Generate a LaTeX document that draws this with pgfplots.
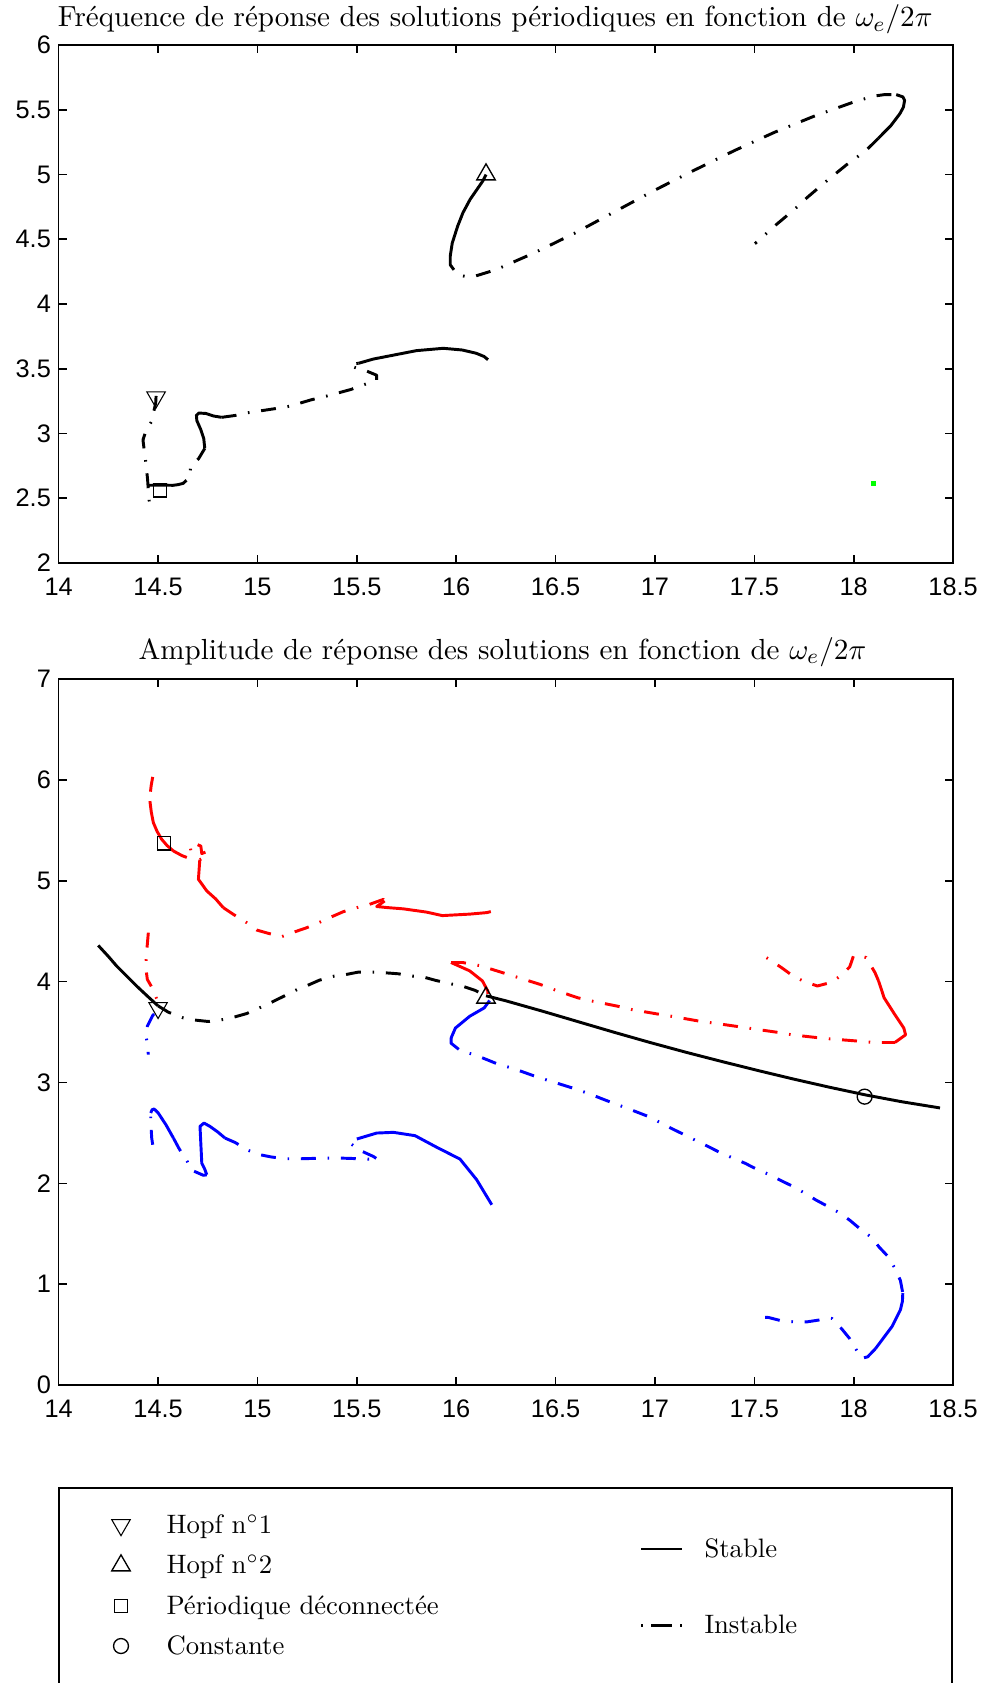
\documentclass[border=0pt]{standalone}
\usepackage{fontspec}
\usepackage{pgfplots}
\pgfplotsset{compat=1.18}
\newfontfamily\arial{Liberation Sans}
\pgfplotsset{
  base/.style={scale only axis, anchor=south west, width=335.4pt,
    xmin=14, xmax=18.5, xtick={14,14.5,15,15.5,16,16.5,17,17.5,18,18.5},
    tick align=inside, major tick length=3pt,
    axis line style={line width=0.6pt},
    every tick/.append style={line width=0.6pt, black},
    tick label style={font=\arial\fontsize{9.5}{10}\selectfont},
    /pgf/number format/assume math mode=true,
    xticklabel style={yshift=-2pt}, yticklabel style={xshift=0.6pt},
    title style={at={(0.5,1)}, anchor=base, font=\fontsize{10.9}{13}\selectfont}},
  stab/.style={line width=1.1pt, solid, line join=round},
  inst/.style={line width=1.1pt, line join=round, dash pattern=on 5.6pt off 4.4pt on 0.6pt off 4.4pt},
  mk/.style={only marks, mark options={solid, line width=0.5pt, draw=black, fill=none}},
}
\begin{document}
\begin{tikzpicture}
\useasboundingbox (0,0) rectangle (369.75pt,-631.125pt);
% ---------------- top plot ----------------
\begin{axis}[base, height=194.25pt, at={(22.01pt,-211.125pt)},
  ymin=2, ymax=6, ytick={2,2.5,3,3.5,4,4.5,5,5.5,6},
  title={Fréquence de réponse des solutions périodiques en fonction de $\omega_e/2\pi$},
  title style={yshift=0.8pt, xshift=-4pt}]
\addplot[inst, black] coordinates {(14.49,3.29)(14.488,3.233)(14.466,3.09)(14.436,3.006)(14.424,2.95)(14.438,2.78)(14.447,2.65)(14.452,2.54)(14.46,2.40)};
\addplot[stab, black] coordinates {(14.45,2.60)(14.51,2.602)(14.575,2.60)};
\addplot[inst, black] coordinates {(14.575,2.60)(14.60,2.605)(14.626,2.615)(14.663,2.667)(14.66,2.70)(14.665,2.745)(14.705,2.808)(14.735,2.885)};
\addplot[stab, black] coordinates {(14.735,2.885)(14.73,2.96)(14.715,3.03)(14.695,3.10)(14.693,3.14)(14.705,3.158)(14.74,3.155)(14.78,3.135)(14.82,3.125)};
\addplot[inst, black] coordinates {(14.82,3.125)(14.89,3.14)(14.95,3.16)(15.08,3.19)(15.16,3.21)(15.27,3.26)(15.35,3.29)(15.47,3.34)(15.55,3.385)(15.60,3.415)(15.60,3.45)(15.55,3.482)(15.50,3.505)(15.465,3.522)(15.48,3.537)(15.508,3.542)};
\addplot[stab, black] coordinates {(15.508,3.542)(15.583,3.575)(15.70,3.61)(15.80,3.64)(15.935,3.658)(16.03,3.645)(16.10,3.62)(16.14,3.595)(16.16,3.57)};
\addplot[stab, black] coordinates {(16.15,5.00)(16.133,4.948)(16.07,4.808)(16.034,4.705)(16.007,4.60)(15.98,4.47)(15.97,4.37)};
\addplot[inst, black] coordinates {(15.97,4.37)(15.97,4.303)(16.007,4.225)(16.05,4.212)(16.088,4.212)(16.2,4.265)(16.4,4.40)(16.6,4.55)(16.8,4.715)(17.0,4.88)(17.2,5.035)(17.4,5.185)(17.6,5.325)(17.8,5.45)(18.0,5.56)(18.1,5.605)(18.155,5.617)(18.214,5.617)};
\addplot[stab, black] coordinates {(18.214,5.617)(18.247,5.60)(18.256,5.573)(18.25,5.52)(18.232,5.469)(18.187,5.378)(18.124,5.28)};
\addplot[inst, black] coordinates {(18.124,5.28)(18.061,5.184)(17.962,5.073)(17.854,4.938)(17.764,4.82)(17.701,4.73)(17.611,4.614)(17.503,4.466)};
\addplot[only marks, mark=square*, mark size=0.6pt, color=green] coordinates {(18.10,2.615)};
\addplot[mk, mark=triangle, mark size=4pt, mark options={rotate=180}] coordinates {(14.49,3.28)};
\addplot[mk, mark=triangle, mark size=4pt] coordinates {(16.15,5.00)};
\addplot[mk, mark=square, mark size=2.5pt] coordinates {(14.51,2.56)};
\end{axis}
% ---------------- bottom plot ----------------
\begin{axis}[base, height=264.75pt, at={(22.01pt,-519.4pt)},
  ymin=0, ymax=7, ytick={0,1,2,3,4,5,6,7},
  title={Amplitude de réponse des solutions en fonction de $\omega_e/2\pi$},
  title style={yshift=1.5pt, xshift=-1.3pt}]
% black
\addplot[stab, black] coordinates {(14.199,4.359)(14.25,4.25)(14.292,4.154)(14.35,4.04)(14.393,3.955)(14.45,3.85)(14.50,3.76)};
\addplot[inst, black] coordinates {(14.50,3.76)(14.552,3.697)(14.627,3.641)(14.691,3.618)(14.753,3.605)(14.828,3.625)(14.887,3.651)(14.946,3.684)(15.022,3.751)(15.072,3.797)(15.127,3.85)(15.201,3.923)(15.251,3.962)(15.312,4.015)(15.386,4.055)(15.446,4.071)(15.508,4.095)(15.583,4.095)(15.642,4.088)(15.709,4.078)(15.782,4.055)(15.833,4.047)(15.896,4.013)(15.969,3.98)(16.029,3.957)(16.096,3.913)(16.15,3.86)};
\addplot[stab, black] coordinates {(16.15,3.86)(16.25,3.81)(16.431,3.709)(16.612,3.604)(16.793,3.499)(16.975,3.397)(17.156,3.300)(17.337,3.208)(17.518,3.119)(17.70,3.033)(17.881,2.952)(18.062,2.876)(18.243,2.809)(18.434,2.748)};
% red
\addplot[inst, red] coordinates {(14.473,6.03)(14.465,5.94)(14.46,5.85)(14.459,5.79)};
\addplot[stab, red] coordinates {(14.459,5.79)(14.466,5.68)(14.476,5.578)(14.495,5.49)(14.518,5.412)(14.545,5.35)(14.577,5.296)};
\addplot[inst, red] coordinates {(14.577,5.296)(14.62,5.25)(14.66,5.22)(14.665,5.30)(14.66,5.355)(14.69,5.365)(14.715,5.345)(14.72,5.27)(14.745,5.29)(14.74,5.24)(14.71,5.21)};
\addplot[stab, red] coordinates {(14.71,5.21)(14.703,5.015)(14.745,4.90)(14.79,4.82)(14.828,4.734)};
\addplot[inst, red] coordinates {(14.828,4.734)(14.879,4.667)(14.946,4.585)(14.996,4.512)(15.055,4.479)(15.122,4.446)(15.189,4.495)(15.248,4.535)(15.315,4.591)(15.374,4.644)(15.432,4.694)(15.50,4.734)(15.563,4.766)(15.634,4.816)(15.64,4.80)};
\addplot[stab, red] coordinates {(15.64,4.80)(15.60,4.745)(15.65,4.735)(15.734,4.722)(15.85,4.69)(15.93,4.655)(16.07,4.67)(16.155,4.685)(16.174,4.695)};
\addplot[inst, red] coordinates {(14.451,4.486)(14.445,4.35)(14.439,4.188)(14.439,4.128)(14.446,4.022)(14.47,3.94)(14.493,3.83)};
\addplot[stab, red] coordinates {(16.159,3.88)(16.159,3.907)(16.132,4.007)(16.068,4.107)(15.974,4.19)};
\addplot[inst, red] coordinates {(15.974,4.19)(16.032,4.19)(16.123,4.157)(16.232,4.09)(16.313,4.04)(16.422,3.973)(16.503,3.913)(16.612,3.84)(16.685,3.807)(16.811,3.757)(16.884,3.723)(17.011,3.68)(17.083,3.657)(17.21,3.613)(17.292,3.59)(17.41,3.557)(17.491,3.533)(17.609,3.50)(17.69,3.473)(17.808,3.447)(17.881,3.433)(18.007,3.413)(18.08,3.40)(18.143,3.397)(18.207,3.397)};
\addplot[stab, red] coordinates {(18.207,3.397)(18.261,3.473)(18.252,3.54)(18.207,3.673)(18.153,3.84)(18.125,4.007)};
\addplot[inst, red] coordinates {(18.125,4.007)(18.107,4.09)(18.062,4.24)(18.02,4.26)(17.999,4.257)(17.98,4.147)(17.935,4.057)(17.881,3.99)(17.817,3.957)(17.745,4.007)(17.69,4.063)(17.636,4.14)(17.573,4.223)(17.527,4.28)};
% blue
\addplot[inst, blue] coordinates {(14.48,3.68)(14.473,3.664)(14.446,3.558)(14.439,3.459)(14.446,3.393)(14.451,3.277)};
\addplot[inst, blue] coordinates {(14.473,2.383)(14.468,2.45)(14.463,2.615)(14.463,2.698)};
\addplot[stab, blue] coordinates {(14.463,2.698)(14.47,2.73)(14.48,2.738)(14.50,2.70)(14.54,2.58)(14.577,2.45)};
\addplot[inst, blue] coordinates {(14.577,2.45)(14.607,2.34)(14.647,2.217)(14.664,2.135)(14.728,2.08)(14.745,2.085)};
\addplot[stab, blue] coordinates {(14.745,2.085)(14.735,2.14)(14.72,2.20)(14.715,2.40)(14.711,2.565)(14.731,2.598)(14.761,2.565)(14.80,2.51)(14.837,2.449)};
\addplot[inst, blue] coordinates {(14.837,2.449)(14.887,2.406)(14.954,2.327)(15.013,2.284)(15.072,2.261)(15.147,2.244)(15.214,2.244)(15.273,2.247)(15.349,2.251)(15.412,2.251)(15.474,2.247)(15.55,2.241)(15.608,2.234)(15.583,2.267)(15.516,2.327)(15.47,2.393)(15.48,2.42)(15.50,2.44)};
\addplot[stab, blue] coordinates {(15.50,2.44)(15.60,2.499)(15.684,2.506)(15.793,2.473)(15.90,2.36)(16.019,2.241)(16.103,2.036)(16.179,1.788)};
\addplot[stab, blue] coordinates {(16.168,3.813)(16.141,3.74)(16.068,3.657)(15.996,3.54)(15.974,3.44)};
\addplot[inst, blue] coordinates {(15.974,3.44)(15.974,3.39)(16.023,3.313)(16.096,3.273)(16.213,3.18)(16.286,3.14)(16.404,3.057)(16.476,3.013)(16.594,2.94)(16.667,2.89)(16.784,2.80)(16.857,2.747)(16.975,2.657)(17.047,2.58)(17.15,2.48)(17.27,2.363)(17.329,2.304)(17.396,2.248)(17.455,2.198)(17.513,2.139)(17.58,2.083)(17.636,2.026)(17.69,1.974)(17.757,1.90)(17.81,1.835)(17.866,1.776)(17.933,1.703)(17.983,1.63)(18.029,1.554)(18.089,1.465)(18.129,1.366)(18.173,1.274)(18.21,1.149)(18.235,1.036)(18.247,0.911)};
\addplot[stab, blue] coordinates {(18.247,0.911)(18.245,0.83)(18.235,0.746)(18.193,0.581)(18.109,0.36)};
\addplot[inst, blue] coordinates {(18.109,0.36)(18.07,0.28)(18.04,0.265)(18.008,0.366)(17.978,0.465)(17.941,0.554)(17.891,0.66)(17.87,0.665)(17.832,0.647)(17.765,0.627)(17.698,0.627)(17.631,0.64)(17.572,0.67)(17.497,0.68)};
% markers
\addplot[mk, mark=triangle, mark size=4pt, mark options={rotate=180}] coordinates {(14.50,3.74)};
\addplot[mk, mark=triangle, mark size=4pt] coordinates {(16.15,3.84)};
\addplot[mk, mark=square, mark size=2.5pt] coordinates {(14.53,5.37)};
\addplot[mk, mark=o, mark size=2.8pt] coordinates {(18.055,2.86)};
\end{axis}
% ---------------- legend ----------------
\begin{axis}[scale only axis, anchor=south west, at={(0pt,-631.125pt)},
  width=369.75pt, height=73.125pt, xmin=0, xmax=986, ymin=-1683, ymax=-1488,
  hide axis, clip=false]
\draw[line width=0.6pt] (axis cs:59,-1720) -- (axis cs:59,-1488) -- (axis cs:952,-1488) -- (axis cs:952,-1720);
\addplot[mk, mark=triangle, mark size=4pt, mark options={rotate=180}] coordinates {(121,-1525)};
\addplot[mk, mark=triangle, mark size=4pt] coordinates {(121,-1565.5)};
\addplot[mk, mark=square, mark size=2.5pt] coordinates {(121,-1606)};
\addplot[mk, mark=o, mark size=2.8pt] coordinates {(121,-1646)};
\addplot[stab, black] coordinates {(641,-1549)(682,-1549)};
\addplot[black, line width=1.1pt, dash pattern=on 0.6pt off 3.2pt on 7.8pt off 3.2pt on 0.6pt off 20pt] coordinates {(641,-1625.5)(682,-1625.5)};
\node[anchor=base west, font=\fontsize{10}{12}\selectfont, inner sep=0pt] at (axis cs:166,-1533) {Hopf n$^\circ$1};
\node[anchor=base west, font=\fontsize{10}{12}\selectfont, inner sep=0pt] at (axis cs:166,-1573.5) {Hopf n$^\circ$2};
\node[anchor=base west, font=\fontsize{10}{12}\selectfont, inner sep=0pt] at (axis cs:166,-1614) {Périodique déconnectée};
\node[anchor=base west, font=\fontsize{10}{12}\selectfont, inner sep=0pt] at (axis cs:166,-1654) {Constante};
\node[anchor=base west, font=\fontsize{10}{12}\selectfont, inner sep=0pt] at (axis cs:704,-1557) {Stable};
\node[anchor=base west, font=\fontsize{10}{12}\selectfont, inner sep=0pt] at (axis cs:704,-1633.5) {Instable};
\end{axis}
\end{tikzpicture}
\end{document}
